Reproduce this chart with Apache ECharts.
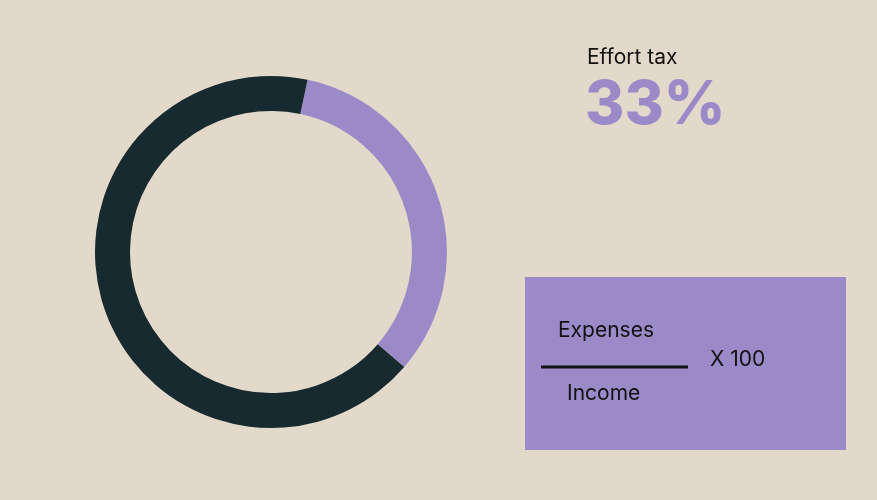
<!DOCTYPE html><html><head><meta charset="utf-8">
<script src="https://cdn.jsdelivr.net/npm/echarts@6/dist/echarts.min.js"></script>
<style>html,body{margin:0;background:#e3d9cb}#c{width:877px;height:500px}</style></head><body><div id="c"></div>
<script>
const categories=['Effort tax','Rest'];
const values=[33,67];
const colors=['#9a8bc8','#172a30'];
const c=echarts.init(document.getElementById('c'));
const F='Inter, "Noto Sans", sans-serif';
c.setOption({backgroundColor:'#e3d9cb',animation:false,
series:[{type:'pie',center:[271,252],radius:[141,176],startAngle:78,clockwise:true,label:{show:false},
 silent:true,data:categories.map((n,i)=>({name:n,value:values[i],itemStyle:{color:colors[i]}}))}],
graphic:[
 {type:'text',left:587,top:47,style:{text:'Effort tax',font:'400 21px '+F,fill:'#111'}},
 {type:'text',left:585,top:76,style:{text:values[0]+'%',font:'800 60px '+F,fill:'#9a8bc8'}},
 {type:'rect',shape:{x:525,y:277,width:321,height:173},style:{fill:'#9a8bc8'}},
 {type:'text',left:558,top:320,style:{text:'Expenses',font:'400 21px '+F,fill:'#111'}},
 {type:'line',shape:{x1:541,y1:367,x2:688,y2:367},style:{stroke:'#111',lineWidth:3}},
 {type:'text',left:567,top:383,style:{text:'Income',font:'400 21px '+F,fill:'#111'}},
 {type:'text',left:710,top:349,style:{text:'X 100',font:'400 21px '+F,fill:'#111'}}
]});
</script></body></html>
